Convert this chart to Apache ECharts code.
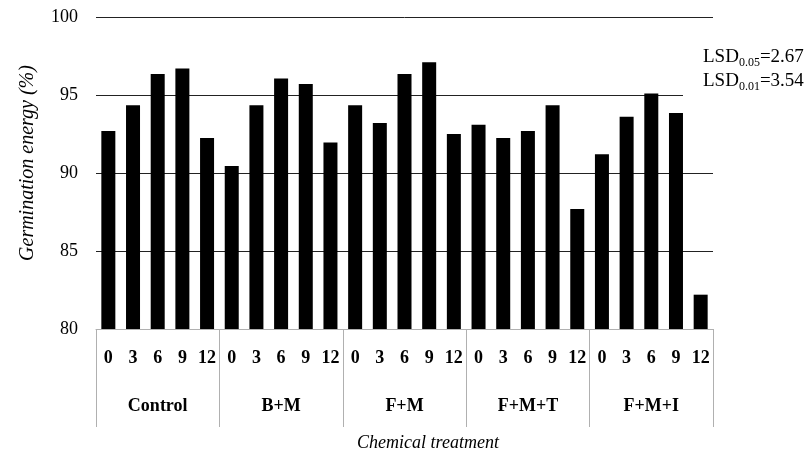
<!DOCTYPE html>
<html>
<head>
<meta charset="utf-8">
<script src="https://cdn.jsdelivr.net/npm/echarts@6/dist/echarts.min.js"></script>
<style>
html, body { margin: 0; padding: 0; background: #fff; }
#main { width: 810px; height: 453px; }
</style>
</head>
<body>
<div id="main"></div>
<script>
// 数据
var groups = ['Control', 'B+M', 'F+M', 'F+M+T', 'F+M+I'];
var doses = ['0', '3', '6', '9', '12'];
var control = [92.7, 94.35, 96.35, 96.7, 92.25];
var bm = [90.45, 94.35, 96.05, 95.7, 91.95];
var fm = [94.35, 93.2, 96.35, 97.1, 92.5];
var fmt = [93.1, 92.25, 92.7, 94.35, 87.7];
var fmi = [91.2, 93.6, 95.1, 93.85, 82.2];
var yTicks = [80, 85, 90, 95, 100];

var categories = [];
groups.forEach(function (g) {
    doses.forEach(function (d) { categories.push(g + '|' + d) });
});
var values = [].concat(control, bm, fm, fmt, fmi);

var serif = '"Liberation Serif", "DejaVu Serif", serif';
var myChart = echarts.init(document.getElementById('main'));

var option = {
    animation: false,
    backgroundColor: '#fff',
    grid: {
        left: 96, right: 97, top: 17, bottom: 124,
        containLabel: false,
        outerBoundsMode: 'none'
    },
    xAxis: [
        {
            type: 'category',
            data: categories,
            position: 'bottom',
            axisLine: { show: true, lineStyle: { color: '#b0b0b0', width: 1 } },
            axisTick: { show: false },
            axisLabel: {
                interval: 0,
                margin: 20,
                color: '#000',
                fontFamily: serif,
                fontWeight: 'bold',
                fontSize: 18,
                formatter: function (v) { return v.split('|')[1] }
            }
        },
        {
            type: 'category',
            data: groups,
            position: 'bottom',
            axisLine: { show: false },
            axisTick: { show: true, length: 98, lineStyle: { color: '#b0b0b0', width: 1 } },
            axisLabel: {
                interval: 0,
                margin: 68,
                color: '#000',
                fontFamily: serif,
                fontWeight: 'bold',
                fontSize: 18
            }
        }
    ],
    yAxis: {
        type: 'value',
        min: yTicks[0],
        max: yTicks[yTicks.length - 1],
        interval: 5,
        axisLine: { show: false },
        axisTick: { show: false },
        axisLabel: {
            margin: 18,
            color: '#000',
            fontFamily: serif,
            fontSize: 18
        },
        splitLine: {
            show: true,
            lineStyle: { color: ['#b0b0b0', '#222', '#222', '#222', '#222'], width: 1 }
        }
    },
    series: [{
        type: 'bar',
        xAxisIndex: 0,
        data: values,
        barWidth: 14,
        itemStyle: { color: '#000' }
    }],
    graphic: [
        {
            type: 'rect',
            left: 683, top: 40,
            shape: { width: 127, height: 58 },
            style: { fill: '#fff' },
            z: 100
        },
        {
            type: 'text',
            left: 703, top: 45,
            z: 101,
            style: {
                text: 'LSD{s|0.05}=2.67\nLSD{s|0.01}=3.54',
                fontFamily: serif,
                fontSize: 19,
                lineHeight: 24,
                fill: '#000',
                rich: {
                    s: { fontFamily: serif, fontSize: 12, verticalAlign: 'bottom', padding: [7, 0, 0, 0] }
                }
            }
        },
        {
            type: 'text',
            x: 28, y: 163,
            rotation: Math.PI / 2,
            style: {
                text: 'Germination energy (%)',
                fontFamily: serif,
                fontStyle: 'italic',
                fontSize: 20,
                fill: '#000',
                align: 'center',
                verticalAlign: 'middle'
            }
        },
        {
            type: 'text',
            x: 428, y: 443,
            style: {
                text: 'Chemical treatment',
                fontFamily: serif,
                fontStyle: 'italic',
                fontSize: 18,
                fill: '#000',
                align: 'center',
                verticalAlign: 'middle'
            }
        }
    ]
};

myChart.setOption(option);
</script>
</body>
</html>
